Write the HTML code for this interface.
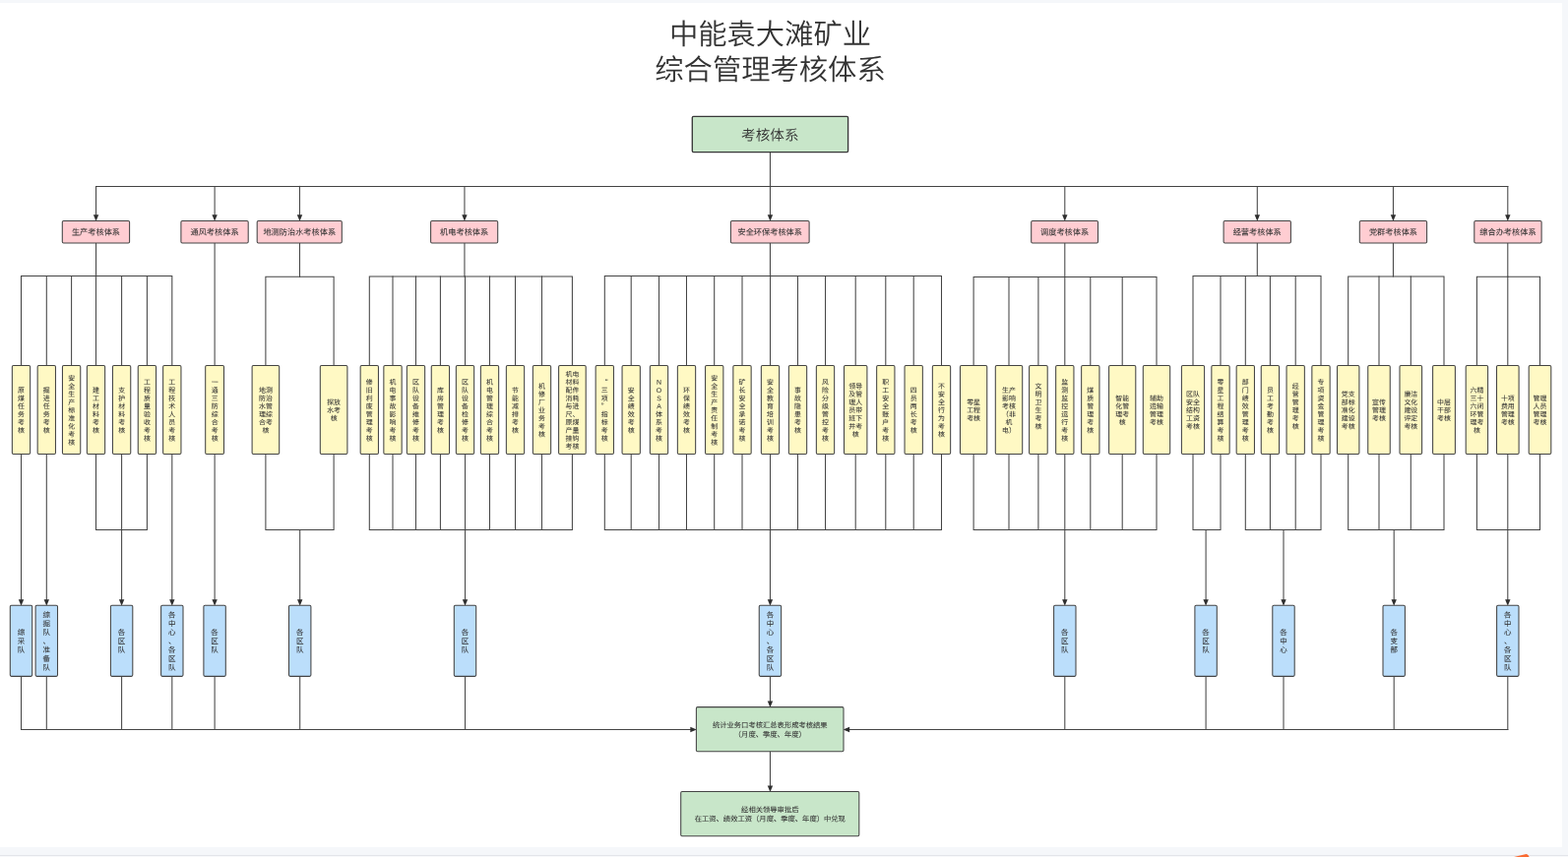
<!DOCTYPE html>
<html lang="zh-CN">
<head>
<meta charset="utf-8">
<title>中能袁大滩矿业综合管理考核体系</title>
<style>
html,body{margin:0;padding:0;background:#f5f7fa;overflow:hidden}
body{width:1593px;height:871px;font-family:"Liberation Sans", "Noto Sans CJK SC", sans-serif}
svg{display:block;will-change:transform}
</style>
</head>
<body>
<svg width="1593" height="871" viewBox="0 0 1593 871" role="img" aria-label="中能袁大滩矿业综合管理考核体系">
<rect x="0" y="0" width="1593" height="871" fill="#f5f7fa"/>
<rect x="0" y="3" width="1587" height="858" fill="#fff"/>
<rect x="0" y="869" width="1593" height="1" fill="#e3e5ea"/>
<rect x="0" y="870" width="1593" height="1" fill="#f7f8fa"/>
<path d="M1538 871L1549.5 868.2Q1551.8 867.6 1552.8 869.6L1553.6 871Z" fill="#fa6a31"/>
<g fill="none" stroke="#444" stroke-width="1.05" stroke-linecap="square">
<path d="M782.45 154.6L782.45 189.4"/>
<path d="M97.55 189.4L1531.8 189.4"/>
<path d="M97.55 189.4L97.55 219"/>
<path d="M97.55 246.95L97.55 280.5"/>
<path d="M21.5 371.4L21.5 280.5L174.8 280.5L174.8 371.4"/>
<path d="M47.3 280.5L47.3 371.4"/>
<path d="M72.6 280.5L72.6 371.4"/>
<path d="M97.5 280.5L97.5 371.4"/>
<path d="M123.6 280.5L123.6 371.4"/>
<path d="M149.4 280.5L149.4 371.4"/>
<path d="M218.1 189.4L218.1 219"/>
<path d="M218.1 246.95L218.1 371.4"/>
<path d="M304.5 189.4L304.5 219"/>
<path d="M304.5 246.95L304.5 281.3"/>
<path d="M269.9 371.4L269.9 281.3L339.1 281.3L339.1 371.4"/>
<path d="M471.95 189.4L471.95 219"/>
<path d="M471.95 246.95L471.95 281"/>
<path d="M375.3 371.4L375.3 281L581.4 281L581.4 371.4"/>
<path d="M399 281L399 371.4"/>
<path d="M422.5 281L422.5 371.4"/>
<path d="M447.4 281L447.4 371.4"/>
<path d="M472.5 281L472.5 371.4"/>
<path d="M497.5 281L497.5 371.4"/>
<path d="M523.5 281L523.5 371.4"/>
<path d="M550.5 281L550.5 371.4"/>
<path d="M782.45 189.4L782.45 219"/>
<path d="M782.45 246.95L782.45 280.5"/>
<path d="M614.3 371.4L614.3 280.5L956.5 280.5L956.5 371.4"/>
<path d="M641.2 280.5L641.2 371.4"/>
<path d="M669.5 280.5L669.5 371.4"/>
<path d="M697.5 280.5L697.5 371.4"/>
<path d="M725.7 280.5L725.7 371.4"/>
<path d="M754 280.5L754 371.4"/>
<path d="M782.5 280.5L782.5 371.4"/>
<path d="M810.5 280.5L810.5 371.4"/>
<path d="M838.5 280.5L838.5 371.4"/>
<path d="M869.2 280.5L869.2 371.4"/>
<path d="M899.8 280.5L899.8 371.4"/>
<path d="M928.2 280.5L928.2 371.4"/>
<path d="M1081.8 189.4L1081.8 219"/>
<path d="M1081.8 246.95L1081.8 281.45"/>
<path d="M989.1 371.4L989.1 281.45L1175 281.45L1175 371.4"/>
<path d="M1025 281.45L1025 371.4"/>
<path d="M1054.9 281.45L1054.9 371.4"/>
<path d="M1081.8 281.45L1081.8 371.4"/>
<path d="M1107.8 281.45L1107.8 371.4"/>
<path d="M1140.2 281.45L1140.2 371.4"/>
<path d="M1277.3 189.4L1277.3 219"/>
<path d="M1277.3 246.95L1277.3 280.45"/>
<path d="M1212 371.4L1212 280.45L1342 280.45L1342 371.4"/>
<path d="M1240 280.45L1240 371.4"/>
<path d="M1265.3 280.45L1265.3 371.4"/>
<path d="M1290.4 280.45L1290.4 371.4"/>
<path d="M1316.2 280.45L1316.2 371.4"/>
<path d="M1415.45 189.4L1415.45 219"/>
<path d="M1415.45 246.95L1415.45 281"/>
<path d="M1369.7 371.4L1369.7 281L1467 281L1467 371.4"/>
<path d="M1401 281L1401 371.4"/>
<path d="M1433.3 281L1433.3 371.4"/>
<path d="M1531.8 189.4L1531.8 219"/>
<path d="M1531.8 246.95L1531.8 281.3"/>
<path d="M1500.4 371.4L1500.4 281.3L1564.5 281.3L1564.5 371.4"/>
<path d="M1531.8 281.3L1531.8 371.4"/>
<path d="M21.5 461.6L21.5 609.8"/>
<path d="M21.5 687.4L21.5 741.5"/>
<path d="M47.3 461.6L47.3 609.8"/>
<path d="M47.3 687.4L47.3 741.5"/>
<path d="M97.5 461.6L97.5 538.4L149.4 538.4L149.4 461.6"/>
<path d="M123.6 461.6L123.6 538.4"/>
<path d="M123.6 538.4L123.6 609.8"/>
<path d="M123.6 687.4L123.6 741.5"/>
<path d="M174.8 461.6L174.8 609.8"/>
<path d="M174.8 687.4L174.8 741.5"/>
<path d="M218.1 461.6L218.1 609.8"/>
<path d="M218.1 687.4L218.1 741.5"/>
<path d="M269.9 461.6L269.9 538.4L339.1 538.4L339.1 461.6"/>
<path d="M304.7 538.4L304.7 609.8"/>
<path d="M304.7 687.4L304.7 741.5"/>
<path d="M375.3 461.6L375.3 538.4L581.4 538.4L581.4 461.6"/>
<path d="M399 461.6L399 538.4"/>
<path d="M422.5 461.6L422.5 538.4"/>
<path d="M447.4 461.6L447.4 538.4"/>
<path d="M472.5 461.6L472.5 538.4"/>
<path d="M497.5 461.6L497.5 538.4"/>
<path d="M523.5 461.6L523.5 538.4"/>
<path d="M550.5 461.6L550.5 538.4"/>
<path d="M472.5 538.4L472.5 609.8"/>
<path d="M472.5 687.4L472.5 741.5"/>
<path d="M614.3 461.6L614.3 538.4L956.5 538.4L956.5 461.6"/>
<path d="M641.2 461.6L641.2 538.4"/>
<path d="M669.5 461.6L669.5 538.4"/>
<path d="M697.5 461.6L697.5 538.4"/>
<path d="M725.7 461.6L725.7 538.4"/>
<path d="M754 461.6L754 538.4"/>
<path d="M782.5 461.6L782.5 538.4"/>
<path d="M810.5 461.6L810.5 538.4"/>
<path d="M838.5 461.6L838.5 538.4"/>
<path d="M869.2 461.6L869.2 538.4"/>
<path d="M899.8 461.6L899.8 538.4"/>
<path d="M928.2 461.6L928.2 538.4"/>
<path d="M782.45 538.4L782.45 609.8"/>
<path d="M782.45 687.4L782.45 713.1"/>
<path d="M989.1 461.6L989.1 538.4L1175 538.4L1175 461.6"/>
<path d="M1025 461.6L1025 538.4"/>
<path d="M1054.9 461.6L1054.9 538.4"/>
<path d="M1081.8 461.6L1081.8 538.4"/>
<path d="M1107.8 461.6L1107.8 538.4"/>
<path d="M1140.2 461.6L1140.2 538.4"/>
<path d="M1081.8 538.4L1081.8 609.8"/>
<path d="M1081.8 687.4L1081.8 741.5"/>
<path d="M1212 461.6L1212 538.4L1240 538.4L1240 461.6"/>
<path d="M1225.1 538.4L1225.1 609.8"/>
<path d="M1225.1 687.4L1225.1 741.5"/>
<path d="M1265.3 461.6L1265.3 538.4L1342 538.4L1342 461.6"/>
<path d="M1290.4 461.6L1290.4 538.4"/>
<path d="M1316.2 461.6L1316.2 538.4"/>
<path d="M1304 538.4L1304 609.8"/>
<path d="M1304 687.4L1304 741.5"/>
<path d="M1369.7 461.6L1369.7 538.4L1467 538.4L1467 461.6"/>
<path d="M1401 461.6L1401 538.4"/>
<path d="M1433.3 461.6L1433.3 538.4"/>
<path d="M1416.2 538.4L1416.2 609.8"/>
<path d="M1416.2 687.4L1416.2 741.5"/>
<path d="M1500.4 461.6L1500.4 538.4L1564.5 538.4L1564.5 461.6"/>
<path d="M1531.8 461.6L1531.8 538.4"/>
<path d="M1531.8 538.4L1531.8 609.8"/>
<path d="M1531.8 687.4L1531.8 741.5"/>
<path d="M21.5 741.5L701.9 741.5"/>
<path d="M1531.8 741.5L862.5 741.5"/>
<path d="M782.45 763.8L782.45 799"/>
</g>
<g fill="#2e2e2e" stroke="none">
<path d="M97.55 224.8L94.85 218.3L100.25 218.3Z"/>
<path d="M218.1 224.8L215.4 218.3L220.8 218.3Z"/>
<path d="M304.5 224.8L301.8 218.3L307.2 218.3Z"/>
<path d="M471.95 224.8L469.25 218.3L474.65 218.3Z"/>
<path d="M782.45 224.8L779.75 218.3L785.15 218.3Z"/>
<path d="M1081.8 224.8L1079.1 218.3L1084.5 218.3Z"/>
<path d="M1277.3 224.8L1274.6 218.3L1280 218.3Z"/>
<path d="M1415.45 224.8L1412.75 218.3L1418.15 218.3Z"/>
<path d="M1531.8 224.8L1529.1 218.3L1534.5 218.3Z"/>
<path d="M21.5 615.7L18.8 609.2L24.2 609.2Z"/>
<path d="M47.3 615.7L44.6 609.2L50 609.2Z"/>
<path d="M123.6 615.7L120.9 609.2L126.3 609.2Z"/>
<path d="M174.8 615.7L172.1 609.2L177.5 609.2Z"/>
<path d="M218.1 615.7L215.4 609.2L220.8 609.2Z"/>
<path d="M304.7 615.7L302 609.2L307.4 609.2Z"/>
<path d="M472.5 615.7L469.8 609.2L475.2 609.2Z"/>
<path d="M782.45 615.7L779.75 609.2L785.15 609.2Z"/>
<path d="M782.45 719L779.75 712.5L785.15 712.5Z"/>
<path d="M1081.8 615.7L1079.1 609.2L1084.5 609.2Z"/>
<path d="M1225.1 615.7L1222.4 609.2L1227.8 609.2Z"/>
<path d="M1304 615.7L1301.3 609.2L1306.7 609.2Z"/>
<path d="M1416.2 615.7L1413.5 609.2L1418.9 609.2Z"/>
<path d="M1531.8 615.7L1529.1 609.2L1534.5 609.2Z"/>
<path d="M707.8 741.5L701.3 738.8L701.3 744.2Z"/>
<path d="M856.6 741.5L863.1 738.8L863.1 744.2Z"/>
<path d="M782.45 804.9L779.75 798.4L785.15 798.4Z"/>
</g>
<g stroke="#444" stroke-width="1.05">
<rect x="703.3" y="118.3" width="158.3" height="36.3" rx="1.3" fill="#c8e6c9" stroke="#383838" stroke-width="1.35"/>
<rect x="63.3" y="224.5" width="68.3" height="22.45" rx="1.3" fill="#ffcdd2"/>
<rect x="12.35" y="371.4" width="18.3" height="90.2" rx="1.3" fill="#fff9c4"/>
<rect x="38.15" y="371.4" width="18.3" height="90.2" rx="1.3" fill="#fff9c4"/>
<rect x="63.45" y="371.4" width="18.3" height="90.2" rx="1.3" fill="#fff9c4"/>
<rect x="88.35" y="371.4" width="18.3" height="90.2" rx="1.3" fill="#fff9c4"/>
<rect x="114.45" y="371.4" width="18.3" height="90.2" rx="1.3" fill="#fff9c4"/>
<rect x="140.25" y="371.4" width="18.3" height="90.2" rx="1.3" fill="#fff9c4"/>
<rect x="165.65" y="371.4" width="18.3" height="90.2" rx="1.3" fill="#fff9c4"/>
<rect x="183.9" y="224.5" width="68.3" height="22.45" rx="1.3" fill="#ffcdd2"/>
<rect x="208.7" y="371.4" width="18.8" height="90.2" rx="1.3" fill="#fff9c4"/>
<rect x="261.2" y="224.5" width="86.1" height="22.45" rx="1.3" fill="#ffcdd2"/>
<rect x="256.1" y="371.4" width="27.6" height="90.2" rx="1.3" fill="#fff9c4"/>
<rect x="325.3" y="371.4" width="27.6" height="90.2" rx="1.3" fill="#fff9c4"/>
<rect x="437.6" y="224.5" width="68.1" height="22.45" rx="1.3" fill="#ffcdd2"/>
<rect x="366.15" y="371.4" width="18.3" height="90.2" rx="1.3" fill="#fff9c4"/>
<rect x="389.85" y="371.4" width="18.3" height="90.2" rx="1.3" fill="#fff9c4"/>
<rect x="413.35" y="371.4" width="18.3" height="90.2" rx="1.3" fill="#fff9c4"/>
<rect x="438.25" y="371.4" width="18.3" height="90.2" rx="1.3" fill="#fff9c4"/>
<rect x="463.35" y="371.4" width="18.3" height="90.2" rx="1.3" fill="#fff9c4"/>
<rect x="488.35" y="371.4" width="18.3" height="90.2" rx="1.3" fill="#fff9c4"/>
<rect x="514.35" y="371.4" width="18.3" height="90.2" rx="1.3" fill="#fff9c4"/>
<rect x="541.35" y="371.4" width="18.3" height="90.2" rx="1.3" fill="#fff9c4"/>
<rect x="567.6" y="371.4" width="27.6" height="90.2" rx="1.3" fill="#fff9c4"/>
<rect x="742.4" y="224.5" width="79.7" height="22.45" rx="1.3" fill="#ffcdd2"/>
<rect x="605.15" y="371.4" width="18.3" height="90.2" rx="1.3" fill="#fff9c4"/>
<rect x="632.05" y="371.4" width="18.3" height="90.2" rx="1.3" fill="#fff9c4"/>
<rect x="660.35" y="371.4" width="18.3" height="90.2" rx="1.3" fill="#fff9c4"/>
<rect x="688.35" y="371.4" width="18.3" height="90.2" rx="1.3" fill="#fff9c4"/>
<rect x="716.55" y="371.4" width="18.3" height="90.2" rx="1.3" fill="#fff9c4"/>
<rect x="744.85" y="371.4" width="18.3" height="90.2" rx="1.3" fill="#fff9c4"/>
<rect x="773.35" y="371.4" width="18.3" height="90.2" rx="1.3" fill="#fff9c4"/>
<rect x="801.35" y="371.4" width="18.3" height="90.2" rx="1.3" fill="#fff9c4"/>
<rect x="829.35" y="371.4" width="18.3" height="90.2" rx="1.3" fill="#fff9c4"/>
<rect x="857.5" y="371.4" width="23.4" height="90.2" rx="1.3" fill="#fff9c4"/>
<rect x="890.65" y="371.4" width="18.3" height="90.2" rx="1.3" fill="#fff9c4"/>
<rect x="919.05" y="371.4" width="18.3" height="90.2" rx="1.3" fill="#fff9c4"/>
<rect x="947.35" y="371.4" width="18.3" height="90.2" rx="1.3" fill="#fff9c4"/>
<rect x="1047.7" y="224.5" width="67.8" height="22.45" rx="1.3" fill="#ffcdd2"/>
<rect x="975.45" y="371.4" width="27.3" height="90.2" rx="1.3" fill="#fff9c4"/>
<rect x="1011.3" y="371.4" width="27.4" height="90.2" rx="1.3" fill="#fff9c4"/>
<rect x="1045.6" y="371.4" width="18.6" height="90.2" rx="1.3" fill="#fff9c4"/>
<rect x="1072.65" y="371.4" width="18.3" height="90.2" rx="1.3" fill="#fff9c4"/>
<rect x="1098.65" y="371.4" width="18.3" height="90.2" rx="1.3" fill="#fff9c4"/>
<rect x="1126.6" y="371.4" width="27.2" height="90.2" rx="1.3" fill="#fff9c4"/>
<rect x="1161.3" y="371.4" width="27.4" height="90.2" rx="1.3" fill="#fff9c4"/>
<rect x="1243.1" y="224.5" width="68.3" height="22.45" rx="1.3" fill="#ffcdd2"/>
<rect x="1200.4" y="371.4" width="23.2" height="90.2" rx="1.3" fill="#fff9c4"/>
<rect x="1230.85" y="371.4" width="18.3" height="90.2" rx="1.3" fill="#fff9c4"/>
<rect x="1256.15" y="371.4" width="18.3" height="90.2" rx="1.3" fill="#fff9c4"/>
<rect x="1281.25" y="371.4" width="18.3" height="90.2" rx="1.3" fill="#fff9c4"/>
<rect x="1307.05" y="371.4" width="18.3" height="90.2" rx="1.3" fill="#fff9c4"/>
<rect x="1332.85" y="371.4" width="18.3" height="90.2" rx="1.3" fill="#fff9c4"/>
<rect x="1381.3" y="224.5" width="68.3" height="22.45" rx="1.3" fill="#ffcdd2"/>
<rect x="1358.5" y="371.4" width="22.4" height="90.2" rx="1.3" fill="#fff9c4"/>
<rect x="1389.75" y="371.4" width="22.5" height="90.2" rx="1.3" fill="#fff9c4"/>
<rect x="1422" y="371.4" width="22.6" height="90.2" rx="1.3" fill="#fff9c4"/>
<rect x="1455.6" y="371.4" width="22.8" height="90.2" rx="1.3" fill="#fff9c4"/>
<rect x="1497.8" y="224.5" width="68.3" height="22.45" rx="1.3" fill="#ffcdd2"/>
<rect x="1489.2" y="371.4" width="22.4" height="90.2" rx="1.3" fill="#fff9c4"/>
<rect x="1520.5" y="371.4" width="22.6" height="90.2" rx="1.3" fill="#fff9c4"/>
<rect x="1553.2" y="371.4" width="22.6" height="90.2" rx="1.3" fill="#fff9c4"/>
<rect x="10.3" y="615.3" width="22.4" height="72.1" rx="1.3" fill="#bbdefb"/>
<rect x="36.1" y="615.3" width="22.4" height="72.1" rx="1.3" fill="#bbdefb"/>
<rect x="112.4" y="615.3" width="22.4" height="72.1" rx="1.3" fill="#bbdefb"/>
<rect x="163.6" y="615.3" width="22.4" height="72.1" rx="1.3" fill="#bbdefb"/>
<rect x="206.9" y="615.3" width="22.4" height="72.1" rx="1.3" fill="#bbdefb"/>
<rect x="293.5" y="615.3" width="22.4" height="72.1" rx="1.3" fill="#bbdefb"/>
<rect x="461.3" y="615.3" width="22.4" height="72.1" rx="1.3" fill="#bbdefb"/>
<rect x="771.25" y="615.3" width="22.4" height="72.1" rx="1.3" fill="#bbdefb"/>
<rect x="1070.6" y="615.3" width="22.4" height="72.1" rx="1.3" fill="#bbdefb"/>
<rect x="1213.9" y="615.3" width="22.4" height="72.1" rx="1.3" fill="#bbdefb"/>
<rect x="1292.8" y="615.3" width="22.4" height="72.1" rx="1.3" fill="#bbdefb"/>
<rect x="1405" y="615.3" width="22.4" height="72.1" rx="1.3" fill="#bbdefb"/>
<rect x="1520.6" y="615.3" width="22.4" height="72.1" rx="1.3" fill="#bbdefb"/>
<rect x="707.4" y="718.6" width="149.6" height="45.2" rx="1.3" fill="#c8e6c9"/>
<rect x="691.7" y="804.5" width="181.1" height="45.2" rx="1.3" fill="#c8e6c9"/>
</g>
<g fill="#333" stroke="#333" stroke-width="0.05" text-anchor="middle" text-rendering="geometricPrecision" font-family='"Liberation Sans", "Noto Sans CJK SC", sans-serif'>
<text font-size="29.3" font-weight="350" stroke="none"><tspan x="782.5" y="45.03">中能袁大滩矿业</tspan><tspan x="782.5" y="81.03">综合管理考核体系</tspan></text>
<text font-size="14.6" font-weight="350" stroke="none" transform="matrix(1 .0005 0 1 0 -0.3911)"><tspan x="782.3" y="142.5">考核体系</tspan></text>
<text font-size="8.2" transform="matrix(1 .0005 0 1 0 -0.0487)"><tspan x="97.45" y="238.84">生产考核体系</tspan></text>
<text font-size="6.9" transform="matrix(1 .0005 0 1 0 -0.0108)"><tspan x="21.5" y="399">原</tspan><tspan x="21.5" y="407.15">煤</tspan><tspan x="21.5" y="415.3">任</tspan><tspan x="21.5" y="423.45">务</tspan><tspan x="21.5" y="431.6">考</tspan><tspan x="21.5" y="439.75">核</tspan></text>
<text font-size="6.9" transform="matrix(1 .0005 0 1 0 -0.0236)"><tspan x="47.3" y="399">掘</tspan><tspan x="47.3" y="407.15">进</tspan><tspan x="47.3" y="415.3">任</tspan><tspan x="47.3" y="423.45">务</tspan><tspan x="47.3" y="431.6">考</tspan><tspan x="47.3" y="439.75">核</tspan></text>
<text font-size="6.9" transform="matrix(1 .0005 0 1 0 -0.0363)"><tspan x="72.6" y="386.77">安</tspan><tspan x="72.6" y="394.92">全</tspan><tspan x="72.6" y="403.07">生</tspan><tspan x="72.6" y="411.22">产</tspan><tspan x="72.6" y="419.37">标</tspan><tspan x="72.6" y="427.52">准</tspan><tspan x="72.6" y="435.67">化</tspan><tspan x="72.6" y="443.82">考</tspan><tspan x="72.6" y="451.97">核</tspan></text>
<text font-size="6.9" transform="matrix(1 .0005 0 1 0 -0.0488)"><tspan x="97.5" y="399">建</tspan><tspan x="97.5" y="407.15">工</tspan><tspan x="97.5" y="415.3">材</tspan><tspan x="97.5" y="423.45">料</tspan><tspan x="97.5" y="431.6">考</tspan><tspan x="97.5" y="439.75">核</tspan></text>
<text font-size="6.9" transform="matrix(1 .0005 0 1 0 -0.0618)"><tspan x="123.6" y="399">支</tspan><tspan x="123.6" y="407.15">护</tspan><tspan x="123.6" y="415.3">材</tspan><tspan x="123.6" y="423.45">料</tspan><tspan x="123.6" y="431.6">考</tspan><tspan x="123.6" y="439.75">核</tspan></text>
<text font-size="6.9" transform="matrix(1 .0005 0 1 0 -0.0747)"><tspan x="149.4" y="390.85">工</tspan><tspan x="149.4" y="399">程</tspan><tspan x="149.4" y="407.15">质</tspan><tspan x="149.4" y="415.3">量</tspan><tspan x="149.4" y="423.45">验</tspan><tspan x="149.4" y="431.6">收</tspan><tspan x="149.4" y="439.75">考</tspan><tspan x="149.4" y="447.9">核</tspan></text>
<text font-size="6.9" transform="matrix(1 .0005 0 1 0 -0.0874)"><tspan x="174.8" y="390.85">工</tspan><tspan x="174.8" y="399">程</tspan><tspan x="174.8" y="407.15">技</tspan><tspan x="174.8" y="415.3">术</tspan><tspan x="174.8" y="423.45">人</tspan><tspan x="174.8" y="431.6">员</tspan><tspan x="174.8" y="439.75">考</tspan><tspan x="174.8" y="447.9">核</tspan></text>
<text font-size="8.2" transform="matrix(1 .0005 0 1 0 -0.1090)"><tspan x="218.05" y="238.84">通风考核体系</tspan></text>
<text font-size="6.9" transform="matrix(1 .0005 0 1 0 -0.1090)"><tspan x="218.1" y="390.85">一</tspan><tspan x="218.1" y="399">通</tspan><tspan x="218.1" y="407.15">三</tspan><tspan x="218.1" y="415.3">防</tspan><tspan x="218.1" y="423.45">综</tspan><tspan x="218.1" y="431.6">合</tspan><tspan x="218.1" y="439.75">考</tspan><tspan x="218.1" y="447.9">核</tspan></text>
<text font-size="8.2" transform="matrix(1 .0005 0 1 0 -0.1521)"><tspan x="304.25" y="238.84">地测防治水考核体系</tspan></text>
<text font-size="6.9" transform="matrix(1 .0005 0 1 0 -0.1349)"><tspan x="269.9" y="399">地测</tspan><tspan x="269.9" y="407.15">防治</tspan><tspan x="269.9" y="415.3">水管</tspan><tspan x="269.9" y="423.45">理综</tspan><tspan x="269.9" y="431.6">合考</tspan><tspan x="269.9" y="439.75">核</tspan></text>
<text font-size="6.9" transform="matrix(1 .0005 0 1 0 -0.1696)"><tspan x="339.1" y="411.22">探放</tspan><tspan x="339.1" y="419.37">水考</tspan><tspan x="339.1" y="427.52">核</tspan></text>
<text font-size="8.2" transform="matrix(1 .0005 0 1 0 -0.2358)"><tspan x="471.65" y="238.84">机电考核体系</tspan></text>
<text font-size="6.9" transform="matrix(1 .0005 0 1 0 -0.1877)"><tspan x="375.3" y="390.85">修</tspan><tspan x="375.3" y="399">旧</tspan><tspan x="375.3" y="407.15">利</tspan><tspan x="375.3" y="415.3">废</tspan><tspan x="375.3" y="423.45">管</tspan><tspan x="375.3" y="431.6">理</tspan><tspan x="375.3" y="439.75">考</tspan><tspan x="375.3" y="447.9">核</tspan></text>
<text font-size="6.9" transform="matrix(1 .0005 0 1 0 -0.1995)"><tspan x="399" y="390.85">机</tspan><tspan x="399" y="399">电</tspan><tspan x="399" y="407.15">事</tspan><tspan x="399" y="415.3">故</tspan><tspan x="399" y="423.45">影</tspan><tspan x="399" y="431.6">响</tspan><tspan x="399" y="439.75">考</tspan><tspan x="399" y="447.9">核</tspan></text>
<text font-size="6.9" transform="matrix(1 .0005 0 1 0 -0.2112)"><tspan x="422.5" y="390.85">区</tspan><tspan x="422.5" y="399">队</tspan><tspan x="422.5" y="407.15">设</tspan><tspan x="422.5" y="415.3">备</tspan><tspan x="422.5" y="423.45">维</tspan><tspan x="422.5" y="431.6">修</tspan><tspan x="422.5" y="439.75">考</tspan><tspan x="422.5" y="447.9">核</tspan></text>
<text font-size="6.9" transform="matrix(1 .0005 0 1 0 -0.2237)"><tspan x="447.4" y="399">库</tspan><tspan x="447.4" y="407.15">房</tspan><tspan x="447.4" y="415.3">管</tspan><tspan x="447.4" y="423.45">理</tspan><tspan x="447.4" y="431.6">考</tspan><tspan x="447.4" y="439.75">核</tspan></text>
<text font-size="6.9" transform="matrix(1 .0005 0 1 0 -0.2363)"><tspan x="472.5" y="390.85">区</tspan><tspan x="472.5" y="399">队</tspan><tspan x="472.5" y="407.15">设</tspan><tspan x="472.5" y="415.3">备</tspan><tspan x="472.5" y="423.45">检</tspan><tspan x="472.5" y="431.6">修</tspan><tspan x="472.5" y="439.75">考</tspan><tspan x="472.5" y="447.9">核</tspan></text>
<text font-size="6.9" transform="matrix(1 .0005 0 1 0 -0.2487)"><tspan x="497.5" y="390.85">机</tspan><tspan x="497.5" y="399">电</tspan><tspan x="497.5" y="407.15">管</tspan><tspan x="497.5" y="415.3">理</tspan><tspan x="497.5" y="423.45">综</tspan><tspan x="497.5" y="431.6">合</tspan><tspan x="497.5" y="439.75">考</tspan><tspan x="497.5" y="447.9">核</tspan></text>
<text font-size="6.9" transform="matrix(1 .0005 0 1 0 -0.2617)"><tspan x="523.5" y="399">节</tspan><tspan x="523.5" y="407.15">能</tspan><tspan x="523.5" y="415.3">减</tspan><tspan x="523.5" y="423.45">排</tspan><tspan x="523.5" y="431.6">考</tspan><tspan x="523.5" y="439.75">核</tspan></text>
<text font-size="6.9" transform="matrix(1 .0005 0 1 0 -0.2752)"><tspan x="550.5" y="394.92">机</tspan><tspan x="550.5" y="403.07">修</tspan><tspan x="550.5" y="411.22">厂</tspan><tspan x="550.5" y="419.37">业</tspan><tspan x="550.5" y="427.52">务</tspan><tspan x="550.5" y="435.67">考</tspan><tspan x="550.5" y="443.82">核</tspan></text>
<text font-size="6.9" transform="matrix(1 .0005 0 1 0 -0.2907)"><tspan x="581.4" y="382.7">机电</tspan><tspan x="581.4" y="390.85">材料</tspan><tspan x="581.4" y="399">配件</tspan><tspan x="581.4" y="407.15">消耗</tspan><tspan x="581.4" y="415.3">与进</tspan><tspan x="581.4" y="423.45">尺、</tspan><tspan x="581.4" y="431.6">原煤</tspan><tspan x="581.4" y="439.75">产量</tspan><tspan x="581.4" y="447.9">挂钩</tspan><tspan x="581.4" y="456.05">考核</tspan></text>
<text font-size="8.2" transform="matrix(1 .0005 0 1 0 -0.3911)"><tspan x="782.25" y="238.84">安全环保考核体系</tspan></text>
<text font-size="6.9" transform="matrix(1 .0005 0 1 0 -0.3071)"><tspan x="614.3" y="390.85" font-family='"Noto Sans CJK SC", "Liberation Sans", sans-serif'>“</tspan><tspan x="614.3" y="399">三</tspan><tspan x="614.3" y="407.15">项</tspan><tspan x="614.3" y="415.3" font-family='"Noto Sans CJK SC", "Liberation Sans", sans-serif'>”</tspan><tspan x="614.3" y="423.45">指</tspan><tspan x="614.3" y="431.6">标</tspan><tspan x="614.3" y="439.75">考</tspan><tspan x="614.3" y="447.9">核</tspan></text>
<text font-size="6.9" transform="matrix(1 .0005 0 1 0 -0.3206)"><tspan x="641.2" y="399">安</tspan><tspan x="641.2" y="407.15">全</tspan><tspan x="641.2" y="415.3">绩</tspan><tspan x="641.2" y="423.45">效</tspan><tspan x="641.2" y="431.6">考</tspan><tspan x="641.2" y="439.75">核</tspan></text>
<text font-size="6.9" transform="matrix(1 .0005 0 1 0 -0.3347)"><tspan x="669.5" y="390.85">N</tspan><tspan x="669.5" y="399">O</tspan><tspan x="669.5" y="407.15">S</tspan><tspan x="669.5" y="415.3">A</tspan><tspan x="669.5" y="423.45">体</tspan><tspan x="669.5" y="431.6">系</tspan><tspan x="669.5" y="439.75">考</tspan><tspan x="669.5" y="447.9">核</tspan></text>
<text font-size="6.9" transform="matrix(1 .0005 0 1 0 -0.3488)"><tspan x="697.5" y="399">环</tspan><tspan x="697.5" y="407.15">保</tspan><tspan x="697.5" y="415.3">绩</tspan><tspan x="697.5" y="423.45">效</tspan><tspan x="697.5" y="431.6">考</tspan><tspan x="697.5" y="439.75">核</tspan></text>
<text font-size="6.9" transform="matrix(1 .0005 0 1 0 -0.3629)"><tspan x="725.7" y="386.77">安</tspan><tspan x="725.7" y="394.92">全</tspan><tspan x="725.7" y="403.07">生</tspan><tspan x="725.7" y="411.22">产</tspan><tspan x="725.7" y="419.37">责</tspan><tspan x="725.7" y="427.52">任</tspan><tspan x="725.7" y="435.67">制</tspan><tspan x="725.7" y="443.82">考</tspan><tspan x="725.7" y="451.97">核</tspan></text>
<text font-size="6.9" transform="matrix(1 .0005 0 1 0 -0.3770)"><tspan x="754" y="390.85">矿</tspan><tspan x="754" y="399">长</tspan><tspan x="754" y="407.15">安</tspan><tspan x="754" y="415.3">全</tspan><tspan x="754" y="423.45">承</tspan><tspan x="754" y="431.6">诺</tspan><tspan x="754" y="439.75">考</tspan><tspan x="754" y="447.9">核</tspan></text>
<text font-size="6.9" transform="matrix(1 .0005 0 1 0 -0.3912)"><tspan x="782.5" y="390.85">安</tspan><tspan x="782.5" y="399">全</tspan><tspan x="782.5" y="407.15">教</tspan><tspan x="782.5" y="415.3">育</tspan><tspan x="782.5" y="423.45">培</tspan><tspan x="782.5" y="431.6">训</tspan><tspan x="782.5" y="439.75">考</tspan><tspan x="782.5" y="447.9">核</tspan></text>
<text font-size="6.9" transform="matrix(1 .0005 0 1 0 -0.4052)"><tspan x="810.5" y="399">事</tspan><tspan x="810.5" y="407.15">故</tspan><tspan x="810.5" y="415.3">隐</tspan><tspan x="810.5" y="423.45">患</tspan><tspan x="810.5" y="431.6">考</tspan><tspan x="810.5" y="439.75">核</tspan></text>
<text font-size="6.9" transform="matrix(1 .0005 0 1 0 -0.4193)"><tspan x="838.5" y="390.85">风</tspan><tspan x="838.5" y="399">险</tspan><tspan x="838.5" y="407.15">分</tspan><tspan x="838.5" y="415.3">级</tspan><tspan x="838.5" y="423.45">管</tspan><tspan x="838.5" y="431.6">控</tspan><tspan x="838.5" y="439.75">考</tspan><tspan x="838.5" y="447.9">核</tspan></text>
<text font-size="6.9" transform="matrix(1 .0005 0 1 0 -0.4346)"><tspan x="869.2" y="394.92">领导</tspan><tspan x="869.2" y="403.07">及管</tspan><tspan x="869.2" y="411.22">理人</tspan><tspan x="869.2" y="419.37">员带</tspan><tspan x="869.2" y="427.52">班下</tspan><tspan x="869.2" y="435.67">井考</tspan><tspan x="869.2" y="443.82">核</tspan></text>
<text font-size="6.9" transform="matrix(1 .0005 0 1 0 -0.4499)"><tspan x="899.8" y="390.85">职</tspan><tspan x="899.8" y="399">工</tspan><tspan x="899.8" y="407.15">安</tspan><tspan x="899.8" y="415.3">全</tspan><tspan x="899.8" y="423.45">账</tspan><tspan x="899.8" y="431.6">户</tspan><tspan x="899.8" y="439.75">考</tspan><tspan x="899.8" y="447.9">核</tspan></text>
<text font-size="6.9" transform="matrix(1 .0005 0 1 0 -0.4641)"><tspan x="928.2" y="399">四</tspan><tspan x="928.2" y="407.15">员</tspan><tspan x="928.2" y="415.3">两</tspan><tspan x="928.2" y="423.45">长</tspan><tspan x="928.2" y="431.6">考</tspan><tspan x="928.2" y="439.75">核</tspan></text>
<text font-size="6.9" transform="matrix(1 .0005 0 1 0 -0.4783)"><tspan x="956.5" y="394.92">不</tspan><tspan x="956.5" y="403.07">安</tspan><tspan x="956.5" y="411.22">全</tspan><tspan x="956.5" y="419.37">行</tspan><tspan x="956.5" y="427.52">为</tspan><tspan x="956.5" y="435.67">考</tspan><tspan x="956.5" y="443.82">核</tspan></text>
<text font-size="8.2" transform="matrix(1 .0005 0 1 0 -0.5408)"><tspan x="1081.6" y="238.84">调度考核体系</tspan></text>
<text font-size="6.9" transform="matrix(1 .0005 0 1 0 -0.4946)"><tspan x="989.1" y="411.22">零星</tspan><tspan x="989.1" y="419.37">工程</tspan><tspan x="989.1" y="427.52">考核</tspan></text>
<text font-size="6.9" transform="matrix(1 .0005 0 1 0 -0.5125)"><tspan x="1025" y="399">生产</tspan><tspan x="1025" y="407.15">影响</tspan><tspan x="1025" y="415.3">考核</tspan><tspan x="1025" y="423.45">（非</tspan><tspan x="1025" y="431.6">机</tspan><tspan x="1025" y="439.75">电）</tspan></text>
<text font-size="6.9" transform="matrix(1 .0005 0 1 0 -0.5275)"><tspan x="1054.9" y="394.92">文</tspan><tspan x="1054.9" y="403.07">明</tspan><tspan x="1054.9" y="411.22">卫</tspan><tspan x="1054.9" y="419.37">生</tspan><tspan x="1054.9" y="427.52">考</tspan><tspan x="1054.9" y="435.67">核</tspan></text>
<text font-size="6.9" transform="matrix(1 .0005 0 1 0 -0.5409)"><tspan x="1081.8" y="390.85">监</tspan><tspan x="1081.8" y="399">测</tspan><tspan x="1081.8" y="407.15">监</tspan><tspan x="1081.8" y="415.3">控</tspan><tspan x="1081.8" y="423.45">运</tspan><tspan x="1081.8" y="431.6">行</tspan><tspan x="1081.8" y="439.75">考</tspan><tspan x="1081.8" y="447.9">核</tspan></text>
<text font-size="6.9" transform="matrix(1 .0005 0 1 0 -0.5539)"><tspan x="1107.8" y="399">煤</tspan><tspan x="1107.8" y="407.15">质</tspan><tspan x="1107.8" y="415.3">管</tspan><tspan x="1107.8" y="423.45">理</tspan><tspan x="1107.8" y="431.6">考</tspan><tspan x="1107.8" y="439.75">核</tspan></text>
<text font-size="6.9" transform="matrix(1 .0005 0 1 0 -0.5701)"><tspan x="1140.2" y="407.15">智能</tspan><tspan x="1140.2" y="415.3">化管</tspan><tspan x="1140.2" y="423.45">理考</tspan><tspan x="1140.2" y="431.6">核</tspan></text>
<text font-size="6.9" transform="matrix(1 .0005 0 1 0 -0.5875)"><tspan x="1175" y="407.15">辅助</tspan><tspan x="1175" y="415.3">运输</tspan><tspan x="1175" y="423.45">管理</tspan><tspan x="1175" y="431.6">考核</tspan></text>
<text font-size="8.2" transform="matrix(1 .0005 0 1 0 -0.6386)"><tspan x="1277.25" y="238.84">经营考核体系</tspan></text>
<text font-size="6.9" transform="matrix(1 .0005 0 1 0 -0.6060)"><tspan x="1212" y="403.07">区队</tspan><tspan x="1212" y="411.22">安全</tspan><tspan x="1212" y="419.37">结构</tspan><tspan x="1212" y="427.52">工资</tspan><tspan x="1212" y="435.67">考核</tspan></text>
<text font-size="6.9" transform="matrix(1 .0005 0 1 0 -0.6200)"><tspan x="1240" y="390.85">零</tspan><tspan x="1240" y="399">星</tspan><tspan x="1240" y="407.15">工</tspan><tspan x="1240" y="415.3">程</tspan><tspan x="1240" y="423.45">结</tspan><tspan x="1240" y="431.6">算</tspan><tspan x="1240" y="439.75">考</tspan><tspan x="1240" y="447.9">核</tspan></text>
<text font-size="6.9" transform="matrix(1 .0005 0 1 0 -0.6327)"><tspan x="1265.3" y="390.85">部</tspan><tspan x="1265.3" y="399">门</tspan><tspan x="1265.3" y="407.15">绩</tspan><tspan x="1265.3" y="415.3">效</tspan><tspan x="1265.3" y="423.45">管</tspan><tspan x="1265.3" y="431.6">理</tspan><tspan x="1265.3" y="439.75">考</tspan><tspan x="1265.3" y="447.9">核</tspan></text>
<text font-size="6.9" transform="matrix(1 .0005 0 1 0 -0.6452)"><tspan x="1290.4" y="399">员</tspan><tspan x="1290.4" y="407.15">工</tspan><tspan x="1290.4" y="415.3">考</tspan><tspan x="1290.4" y="423.45">勤</tspan><tspan x="1290.4" y="431.6">考</tspan><tspan x="1290.4" y="439.75">核</tspan></text>
<text font-size="6.9" transform="matrix(1 .0005 0 1 0 -0.6581)"><tspan x="1316.2" y="394.92">经</tspan><tspan x="1316.2" y="403.07">营</tspan><tspan x="1316.2" y="411.22">管</tspan><tspan x="1316.2" y="419.37">理</tspan><tspan x="1316.2" y="427.52">考</tspan><tspan x="1316.2" y="435.67">核</tspan></text>
<text font-size="6.9" transform="matrix(1 .0005 0 1 0 -0.6710)"><tspan x="1342" y="390.85">专</tspan><tspan x="1342" y="399">项</tspan><tspan x="1342" y="407.15">资</tspan><tspan x="1342" y="415.3">金</tspan><tspan x="1342" y="423.45">管</tspan><tspan x="1342" y="431.6">理</tspan><tspan x="1342" y="439.75">考</tspan><tspan x="1342" y="447.9">核</tspan></text>
<text font-size="8.2" transform="matrix(1 .0005 0 1 0 -0.7077)"><tspan x="1415.45" y="238.84">党群考核体系</tspan></text>
<text font-size="6.9" transform="matrix(1 .0005 0 1 0 -0.6849)"><tspan x="1369.7" y="403.07">党支</tspan><tspan x="1369.7" y="411.22">部标</tspan><tspan x="1369.7" y="419.37">准化</tspan><tspan x="1369.7" y="427.52">建设</tspan><tspan x="1369.7" y="435.67">考核</tspan></text>
<text font-size="6.9" transform="matrix(1 .0005 0 1 0 -0.7005)"><tspan x="1401" y="411.22">宣传</tspan><tspan x="1401" y="419.37">管理</tspan><tspan x="1401" y="427.52">考核</tspan></text>
<text font-size="6.9" transform="matrix(1 .0005 0 1 0 -0.7167)"><tspan x="1433.3" y="403.07">廉洁</tspan><tspan x="1433.3" y="411.22">文化</tspan><tspan x="1433.3" y="419.37">建设</tspan><tspan x="1433.3" y="427.52">评定</tspan><tspan x="1433.3" y="435.67">考核</tspan></text>
<text font-size="6.9" transform="matrix(1 .0005 0 1 0 -0.7335)"><tspan x="1467" y="411.22">中层</tspan><tspan x="1467" y="419.37">干部</tspan><tspan x="1467" y="427.52">考核</tspan></text>
<text font-size="8.2" transform="matrix(1 .0005 0 1 0 -0.7660)"><tspan x="1531.95" y="238.84">综合办考核体系</tspan></text>
<text font-size="6.9" transform="matrix(1 .0005 0 1 0 -0.7502)"><tspan x="1500.4" y="399">六精</tspan><tspan x="1500.4" y="407.15">三十</tspan><tspan x="1500.4" y="415.3">六闭</tspan><tspan x="1500.4" y="423.45">环管</tspan><tspan x="1500.4" y="431.6">理考</tspan><tspan x="1500.4" y="439.75">核</tspan></text>
<text font-size="6.9" transform="matrix(1 .0005 0 1 0 -0.7659)"><tspan x="1531.8" y="407.15">十项</tspan><tspan x="1531.8" y="415.3">费用</tspan><tspan x="1531.8" y="423.45">管理</tspan><tspan x="1531.8" y="431.6">考核</tspan></text>
<text font-size="6.9" transform="matrix(1 .0005 0 1 0 -0.7823)"><tspan x="1564.5" y="407.15">管理</tspan><tspan x="1564.5" y="415.3">人员</tspan><tspan x="1564.5" y="423.45">管理</tspan><tspan x="1564.5" y="431.6">考核</tspan></text>
<text font-size="7.5" transform="matrix(1 .0005 0 1 0 -0.0108)"><tspan x="21.5" y="645.3">综</tspan><tspan x="21.5" y="654.2">采</tspan><tspan x="21.5" y="663.1">队</tspan></text>
<text font-size="7.5" transform="matrix(1 .0005 0 1 0 -0.0236)"><tspan x="47.3" y="627.5">综</tspan><tspan x="47.3" y="636.4">掘</tspan><tspan x="47.3" y="645.3">队</tspan><tspan x="47.3" y="654.2">、</tspan><tspan x="47.3" y="663.1">准</tspan><tspan x="47.3" y="672">备</tspan><tspan x="47.3" y="680.9">队</tspan></text>
<text font-size="7.5" transform="matrix(1 .0005 0 1 0 -0.0618)"><tspan x="123.6" y="645.3">各</tspan><tspan x="123.6" y="654.2">区</tspan><tspan x="123.6" y="663.1">队</tspan></text>
<text font-size="7.5" transform="matrix(1 .0005 0 1 0 -0.0874)"><tspan x="174.8" y="627.5">各</tspan><tspan x="174.8" y="636.4">中</tspan><tspan x="174.8" y="645.3">心</tspan><tspan x="174.8" y="654.2">、</tspan><tspan x="174.8" y="663.1">各</tspan><tspan x="174.8" y="672">区</tspan><tspan x="174.8" y="680.9">队</tspan></text>
<text font-size="7.5" transform="matrix(1 .0005 0 1 0 -0.1090)"><tspan x="218.1" y="645.3">各</tspan><tspan x="218.1" y="654.2">区</tspan><tspan x="218.1" y="663.1">队</tspan></text>
<text font-size="7.5" transform="matrix(1 .0005 0 1 0 -0.1523)"><tspan x="304.7" y="645.3">各</tspan><tspan x="304.7" y="654.2">区</tspan><tspan x="304.7" y="663.1">队</tspan></text>
<text font-size="7.5" transform="matrix(1 .0005 0 1 0 -0.2363)"><tspan x="472.5" y="645.3">各</tspan><tspan x="472.5" y="654.2">区</tspan><tspan x="472.5" y="663.1">队</tspan></text>
<text font-size="7.5" transform="matrix(1 .0005 0 1 0 -0.3912)"><tspan x="782.45" y="627.5">各</tspan><tspan x="782.45" y="636.4">中</tspan><tspan x="782.45" y="645.3">心</tspan><tspan x="782.45" y="654.2">、</tspan><tspan x="782.45" y="663.1">各</tspan><tspan x="782.45" y="672">区</tspan><tspan x="782.45" y="680.9">队</tspan></text>
<text font-size="7.5" transform="matrix(1 .0005 0 1 0 -0.5409)"><tspan x="1081.8" y="645.3">各</tspan><tspan x="1081.8" y="654.2">区</tspan><tspan x="1081.8" y="663.1">队</tspan></text>
<text font-size="7.5" transform="matrix(1 .0005 0 1 0 -0.6125)"><tspan x="1225.1" y="645.3">各</tspan><tspan x="1225.1" y="654.2">区</tspan><tspan x="1225.1" y="663.1">队</tspan></text>
<text font-size="7.5" transform="matrix(1 .0005 0 1 0 -0.6520)"><tspan x="1304" y="645.3">各</tspan><tspan x="1304" y="654.2">中</tspan><tspan x="1304" y="663.1">心</tspan></text>
<text font-size="7.5" transform="matrix(1 .0005 0 1 0 -0.7081)"><tspan x="1416.2" y="645.3">各</tspan><tspan x="1416.2" y="654.2">支</tspan><tspan x="1416.2" y="663.1">部</tspan></text>
<text font-size="7.5" transform="matrix(1 .0005 0 1 0 -0.7659)"><tspan x="1531.8" y="627.5">各</tspan><tspan x="1531.8" y="636.4">中</tspan><tspan x="1531.8" y="645.3">心</tspan><tspan x="1531.8" y="654.2">、</tspan><tspan x="1531.8" y="663.1">各</tspan><tspan x="1531.8" y="672">区</tspan><tspan x="1531.8" y="680.9">队</tspan></text>
<text font-size="7.3" transform="matrix(1 .0005 0 1 0 -0.3911)"><tspan x="782.3" y="739.62">统计业务口考核汇总表形成考核结果</tspan><tspan x="782.3" y="748.92">（月度、季度、年度）</tspan></text>
<text font-size="7.3" transform="matrix(1 .0005 0 1 0 -0.3911)"><tspan x="782.3" y="825.52">经相关领导审批后</tspan><tspan x="782.3" y="834.82">在工资、绩效工资（月度、季度、年度）中兑现</tspan></text>
</g>
</svg>
</body>
</html>
